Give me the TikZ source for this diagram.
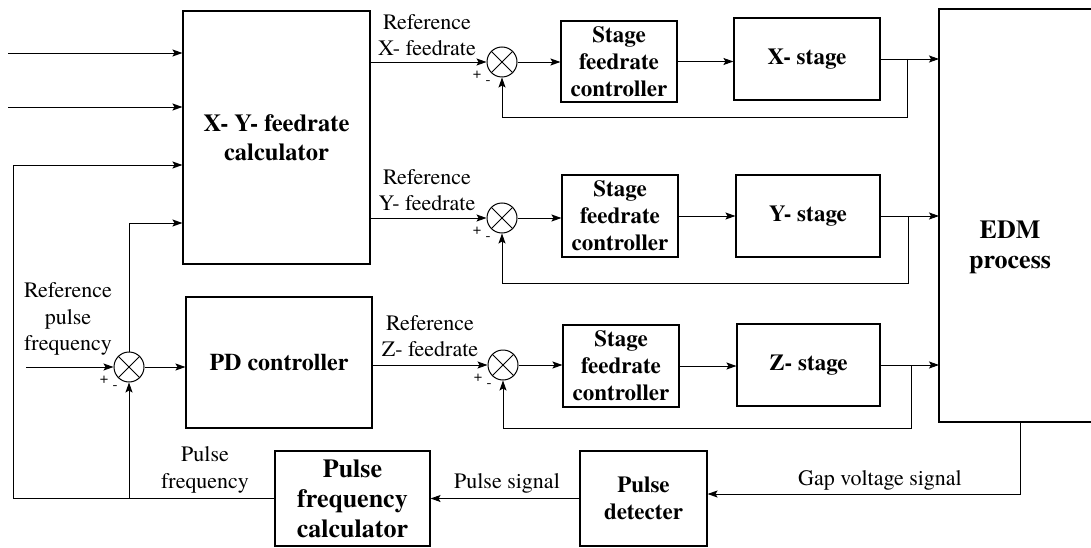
\documentclass[tikz,border=0pt]{standalone}
\usepackage{fontspec}
\setmainfont{texgyretermes}[Extension=.otf, UprightFont=*-regular, BoldFont=*-bold, ItalicFont=*-italic, BoldItalicFont=*-bolditalic]
\usetikzlibrary{calc,arrows.meta}
\tikzset{
  blk/.style={draw, line width=1.1pt, align=center, inner sep=0pt, font=\bfseries\fontsize{23}{27}\selectfont},
  sum/.style={circle, draw, line width=1pt, minimum size=30pt, inner sep=0pt,
    path picture={\draw[line width=1pt] (path picture bounding box.center) +(45:15pt) -- +(225:15pt)
      (path picture bounding box.center) +(135:15pt) -- +(315:15pt);}},
  wire/.style={line width=0.9pt},
  arr/.style={wire, -{Stealth[length=10pt,width=7pt,inset=2pt]}},
  lab/.style={align=center, font=\fontsize{22}{26.5}\selectfont},
  sgn/.style={inner sep=0pt, font=\fontsize{15}{15}\selectfont},
}
\begin{document}
\begin{tikzpicture}[x=1pt,y=-1pt]
  \useasboundingbox (0,0) rectangle (1091,548);

  \node[blk, minimum width=187pt, minimum height=253pt, font=\bfseries\fontsize{24.5}{29}\selectfont] (xy) at (276.5,137.5) {X- Y- feedrate\\calculator};
  \node[blk, minimum width=186pt, minimum height=131pt, font=\bfseries\fontsize{24}{28}\selectfont] (pd) at (279,362.5) {PD controller};
  \node[blk, minimum width=155pt, minimum height=95pt, font=\bfseries\fontsize{26}{30}\selectfont] (pfc) at (352.5,498.5) {Pulse\\frequency\\calculator};
  \node[blk, minimum width=127pt, minimum height=95pt] (pdet) at (643.5,498.5) {Pulse\\detecter};

  \node[blk, minimum width=116pt, minimum height=81pt] (ctlx) at (619,61.5) {Stage\\feedrate\\controller};
  \node[blk, minimum width=116pt, minimum height=82pt] (ctly) at (620,216) {Stage\\feedrate\\controller};
  \node[blk, minimum width=116pt, minimum height=82pt] (ctlz) at (621,366) {Stage\\feedrate\\controller};
  \node[blk, minimum width=146pt, minimum height=82pt] (stgx) at (807,59) {X- stage};
  \node[blk, minimum width=144pt, minimum height=82pt] (stgy) at (808,216) {Y- stage};
  \node[blk, minimum width=143pt, minimum height=82pt] (stgz) at (808.5,365) {Z- stage};

  \coordinate (edmt) at (939,9);
  \coordinate (edmb) at (939,422);
  \draw[line width=1.1pt] (1091,9) -- (edmt) -- (edmb) -- (1091,422);
  \node[blk, draw=none, font=\bfseries\fontsize{26}{30}\selectfont] (edm) at (1010,247) {EDM\\process};

  \node[sum] (sx) at (502,62) {};
  \node[sum] (sy) at (502,218) {};
  \node[sum] (sz) at (503,365) {};
  \node[sum] (sp) at (129,367) {};
  \foreach \s in {sx,sy,sz,sp} {
    \node[sgn] (\s p) at ($(\s)+(-25,13)$) {+};
    \node[sgn] (\s m) at ($(\s)+(-14,21)$) {-};
  }

  \coordinate (in1) at (8,53);
  \coordinate (in2) at (8,107);
  \coordinate (fb) at (13,165);
  \coordinate (in4) at (129,223);
  \coordinate (rp) at (26,367);
  \draw[arr] (in1) -- (in1 -| xy.west);
  \draw[arr] (in2) -- (in2 -| xy.west);
  \draw[arr] (pfc.west) -| (fb) -- (fb -| xy.west);
  \draw[arr] (sp.north) -- (in4) -- (in4 -| xy.west);
  \draw[arr] (sp |- pfc.west) -- (sp.south);
  \draw[arr] (rp) -- (sp.west);
  \draw[arr] (sp.east) -- (sp.east -| pd.west);

  \draw[arr] (sx.west -| xy.east) -- (sx.west);
  \draw[arr] (sy.west -| xy.east) -- (sy.west);
  \draw[arr] (sz.west -| pd.east) -- (sz.west);

  \draw[arr] (sx.east) -- (sx.east -| ctlx.west);
  \draw[arr] (sy.east) -- (sy.east -| ctly.west);
  \draw[arr] (sz.east) -- (sz.east -| ctlz.west);
  \draw[arr] (ctlx.east) -- (ctlx.east -| stgx.west);
  \draw[arr] (ctly.east) -- (ctly.east -| stgy.west);
  \draw[arr] (ctlz.east) -- (ctlz.east -| stgz.west);
  \draw[arr] (stgx.east) -- (stgx.east -| edmt);
  \draw[arr] (stgy.east) -- (stgy.east -| edmt);
  \draw[arr] (stgz.east) -- (stgz.east -| edmt);

  \coordinate (fx) at (907,117);
  \coordinate (fy) at (908,283);
  \coordinate (fz) at (911,428);
  \draw[arr] (fx |- stgx.east) -- (fx) -| (sx.south);
  \draw[arr] (fy |- stgy.east) -- (fy) -| (sy.south);
  \draw[arr] (fz |- stgz.east) -- (fz) -| (sz.south);

  \coordinate (gv) at (1020,494);
  \draw[arr] (gv |- edmb) -- (gv) -- (gv -| pdet.east);
  \draw[arr] (pdet.west) -- (pfc.east);

  \node[lab] (lrefx) at (427,35) {Reference\\X- feedrate};
  \node[lab] (lrefy) at (427,190) {Reference\\Y- feedrate};
  \node[lab] (lrefz) at (430,336) {Reference\\Z- feedrate};
  \node[lab] (lrefp) at (68,319) {Reference\\pulse\\frequency};
  \node[lab] (lpf) at (205,470) {Pulse\\frequency};
  \node[lab] (lps) at (507,483) {Pulse signal};
  \node[lab] (lgap) at (880,480) {Gap voltage signal};
\end{tikzpicture}
\end{document}
